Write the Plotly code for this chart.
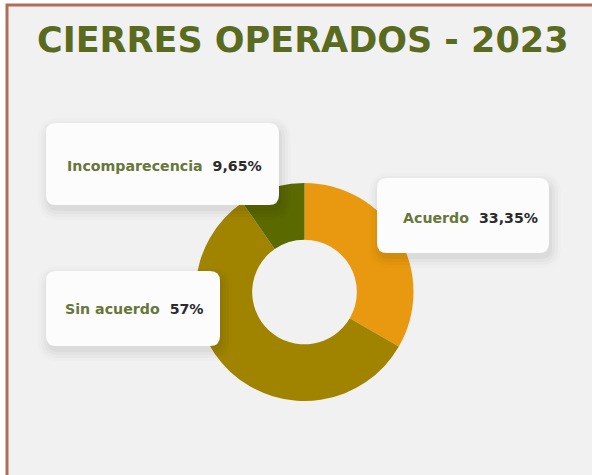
import plotly.graph_objects as go

W, H = 592, 475

labels = ["Acuerdo", "Sin acuerdo", "Incomparecencia"]
values = [33.35, 57, 9.65]
colors = ["#E8990F", "#A08400", "#5A6900"]
title_text = "CIERRES OPERADOS - 2023"

# callout boxes in pixels (x0, y0, x1, y1) and text start, per label
boxes = {
    "Acuerdo": (377, 178, 549, 253),
    "Sin acuerdo": (46, 271, 220, 346),
    "Incomparecencia": (46, 123, 279, 205),
}
text_pos = {
    "Acuerdo": (401, 218),
    "Sin acuerdo": (63, 309),
    "Incomparecencia": (65, 166),
}


def px(x):
    return x / W


def py(y):
    return 1 - y / H


def rounded(x0, y0, x1, y1, r):
    rx, ry = r / W, r / H
    a, b, c, d = px(x0), py(y0), px(x1), py(y1)
    return (
        f"M {a + rx},{b} L {c - rx},{b} Q {c},{b} {c},{b - ry} "
        f"L {c},{d + ry} Q {c},{d} {c - rx},{d} L {a + rx},{d} "
        f"Q {a},{d} {a},{d + ry} L {a},{b - ry} Q {a},{b} {a + rx},{b} Z"
    )


def fmt(v):
    return str(v).replace(".", ",") + "%"


cx, cy, r = 304.5, 292, 109

fig = go.Figure(
    go.Pie(
        labels=labels,
        values=values,
        marker=dict(colors=colors, line=dict(width=0)),
        hole=0.48,
        sort=False,
        direction="clockwise",
        rotation=0,
        textinfo="none",
        showlegend=False,
        domain=dict(x=[px(cx - r), px(cx + r)], y=[py(cy + r), py(cy - r)]),
    )
)

shapes = [
    dict(
        type="rect", xref="paper", yref="paper", layer="below",
        x0=px(7), y0=py(5), x1=1.05, y1=-0.05,
        fillcolor="#F1F1F1", line=dict(color="#B36C57", width=3),
    )
]

annotations = [
    dict(
        text=title_text, xref="paper", yref="paper", x=px(35), y=py(40),
        xanchor="left", yanchor="middle", showarrow=False,
        font=dict(family="DejaVu Sans", size=35, color="#5A6B1F", weight=700),
    )
]

for lab, val in zip(labels, values):
    x0, y0, x1, y1 = boxes[lab]
    # soft shadow
    for k, op in [(10, 0.012), (7, 0.018), (4, 0.022), (1, 0.03)]:
        shapes.append(dict(
            type="path", xref="paper", yref="paper", layer="above",
            path=rounded(x0 - k + 2, y0 - k + 5, x1 + k + 2, y1 + k + 5, 10 + k),
            fillcolor=f"rgba(0,0,0,{op})", line=dict(width=0),
        ))
    shapes.append(dict(
        type="path", xref="paper", yref="paper", layer="above",
        path=rounded(x0, y0, x1, y1, 10),
        fillcolor="#FCFCFC", line=dict(width=0),
    ))
    tx, ty = text_pos[lab]
    annotations.append(dict(
        text=f'<span style="color:#67773A">{lab}</span>  '
             f'<span style="color:#2B2B2B">{fmt(val)}</span>',
        xref="paper", yref="paper", x=px(tx), y=py(ty),
        xanchor="left", yanchor="middle", showarrow=False,
        font=dict(family="DejaVu Sans", size=14.2, weight=700),
    ))

fig.update_layout(
    width=W, height=H,
    margin=dict(l=0, r=0, t=0, b=0),
    paper_bgcolor="white",
    plot_bgcolor="white",
    shapes=shapes,
    annotations=annotations,
)

fig.write_html(
    "out.html",
    config={"displayModeBar": False},
    post_script="document.body.style.margin='0';",
)
